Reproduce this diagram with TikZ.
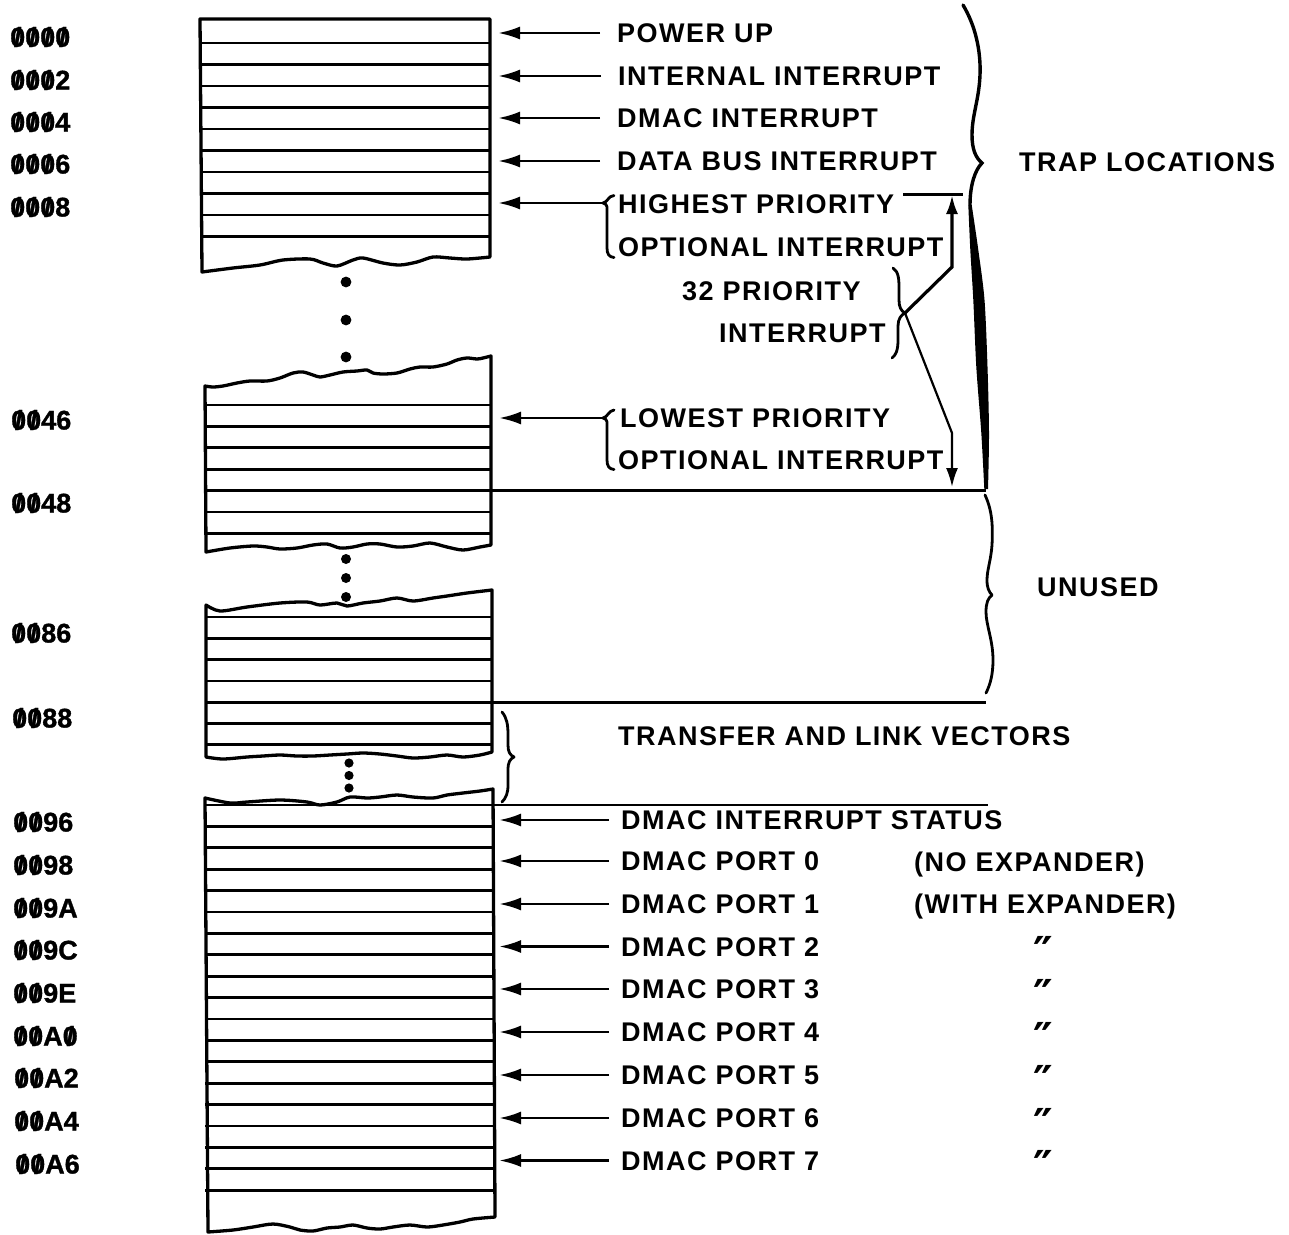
\documentclass[tikz,border=0pt]{standalone}
\usepackage{fontspec}
\usetikzlibrary{arrows.meta}
\newfontfamily\lblfam{Liberation Sans}[LetterSpace=5.5]
\newfontfamily\adrfam{Liberation Sans}[FakeBold=1.2]
\newfontfamily\dvsfam{DejaVu Sans}
\newcommand\lblfont{\lblfam\bfseries\fontsize{27}{30}\selectfont}
\newcommand\adrfont{\adrfam\bfseries\fontsize{27}{30}\selectfont}
\newcommand\qtfont{\dvsfam\bfseries\fontsize{44}{48}\selectfont}
\newcommand\sz{\ooalign{0\cr\hidewidth/\hidewidth\cr}}
\begin{document}
\begin{tikzpicture}[x=1pt,y=-1pt,
  blk/.style={line width=3.3pt,line join=round},
  rowline/.style={line width=2.7pt},
  arr/.style={line width=2.8pt,-{Latex[length=22pt,width=13pt]}},
  varr/.style={-{Latex[length=19pt,width=12pt]}},
  lbl/.style={anchor=west,inner sep=0pt,text height=19pt,text depth=0pt,font=\lblfont},
  adr/.style={anchor=west,inner sep=0pt,text height=19pt,text depth=0pt,font=\adrfont},
  qt/.style={anchor=base west,inner sep=0pt,font=\qtfont},
  brc/.style={line width=2.8pt,line cap=round,line join=round},
  dotc/.style={fill=black}]
\useasboundingbox (0,0) rectangle (1289,1234);

% ---------------- blocks ----------------
% block 1
\draw[blk] plot[smooth] coordinates {(490,257) (467,259) (450,258) (433,257) (417,262) (400,265) (383,263) (363,258) (353,260) (337,266) (323,263) (310,259) (283,260) (260,265) (233,268) (202,272)} -- (200,19) -- (490,19) -- cycle;
\foreach \k in {1,...,10} \draw[rowline] (200,{21.5+21.5*\k}) -- (490,{21.5+21.5*\k});
% block 2
\draw[blk] plot[smooth] coordinates {(205,386) (213,387) (223,386) (237,383) (250,381) (267,381) (280,378) (293,373) (303,372) (313,375) (320,377) (330,375) (343,372) (357,371) (367,370) (373,373) (383,374) (397,373) (410,369) (420,367) (433,367) (447,364) (457,360) (467,358) (477,359) (483,358) (491,356)}
  -- plot[smooth] coordinates {(491,545) (480,547) (463,550) (447,547) (430,543) (413,546) (397,547) (380,544) (367,544) (353,547) (340,548) (327,544) (313,545) (297,548) (280,549) (267,547) (253,546) (230,548) (206,552)} -- cycle;
\foreach \k in {0,...,6} \draw[rowline] (205,{405+21.4*\k}) -- (491,{405+21.4*\k});
% block 3
\draw[blk] plot[smooth] coordinates {(206,605) (220,611) (247,607) (280,603) (307,602) (320,605) (337,603) (347,606) (363,603) (380,601) (397,598) (413,601) (433,598) (447,596) (467,593) (492,590)}
  -- plot[smooth] coordinates {(492,752) (480,755) (463,757) (447,755) (430,757) (413,758) (397,756) (380,754) (363,753) (347,754) (330,755) (313,756) (297,756) (280,755) (263,756) (247,757) (223,759) (206,757)} -- cycle;
\foreach \k in {0,...,6} \draw[rowline] (206,{617+21.3*\k}) -- (492,{617+21.3*\k});
% block 4
\draw[blk] plot[smooth] coordinates {(205,798) (230,803) (247,802) (280,800) (307,802) (320,805) (337,802) (350,797) (367,798) (380,797) (397,795) (413,797) (433,798) (447,795) (463,793) (480,791) (493,789)}
  -- plot[smooth] coordinates {(495,1217) (473,1219) (460,1222) (443,1225) (427,1227) (410,1225) (393,1227) (380,1229) (367,1228) (353,1225) (340,1227) (327,1228) (313,1231) (300,1230) (290,1227) (273,1224) (253,1227) (233,1230) (208,1232)} -- cycle;
\foreach \k in {1,...,18} \draw[rowline] (205,{805+21.4*\k}) -- (494,{805+21.4*\k});

% continuation dots
\foreach \y in {282,320,357} \fill[dotc] (346,\y) circle (5.4);
\foreach \y in {559,578,597} \fill[dotc] (346,\y) circle (5);
\foreach \y in {763,775.5,788} \fill[dotc] (349,\y) circle (4.6);

% boundary lines extending to the right
\coordinate (E48a) at (491,490.6); \coordinate (E48b) at (986,490.6);
\draw[rowline] (E48a) -- (E48b);
\coordinate (E88a) at (492,702.2); \coordinate (E88b) at (986,702.2);
\draw[rowline] (E88a) -- (E88b);
\coordinate (E96a) at (205,805); \coordinate (E96b) at (988,805);
\draw[rowline] (E96a) -- (E96b);

% ---------------- address labels ----------------
\node[adr] (a0000) at (10,37)  {\sz\sz\sz\sz};
\node[adr] (a0002) at (10,80)  {\sz\sz\sz2};
\node[adr] (a0004) at (10,122) {\sz\sz\sz4};
\node[adr] (a0006) at (10,164) {\sz\sz\sz6};
\node[adr] (a0008) at (10,207) {\sz\sz\sz8};
\node[adr] (a0046) at (11,420) {\sz\sz46};
\node[adr] (a0048) at (11,503) {\sz\sz48};
\node[adr] (a0086) at (11,633) {\sz\sz86};
\node[adr] (a0088) at (12,718) {\sz\sz88};
\node[adr] (a0096) at (13,822) {\sz\sz96};
\node[adr] (a0098) at (13,865) {\sz\sz98};
\node[adr] (a009A) at (13,908) {\sz\sz9A};
\node[adr] (a009C) at (13,950) {\sz\sz9C};
\node[adr] (a009E) at (13,993) {\sz\sz9E};
\node[adr] (a00A0) at (13,1036) {\sz\sz A\sz};
\node[adr] (a00A2) at (14,1078) {\sz\sz A2};
\node[adr] (a00A4) at (14,1121) {\sz\sz A4};
\node[adr] (a00A6) at (15,1164) {\sz\sz A6};

% ---------------- trap location labels ----------------
\node[lbl] (L1) at (617,33)  {POWER UP};
\node[lbl] (L2) at (618,76)  {INTERNAL INTERRUPT};
\node[lbl] (L3) at (617,118) {DMAC INTERRUPT};
\node[lbl] (L4) at (617,161) {DATA BUS INTERRUPT};
\node[lbl] (L5) at (618,204) {HIGHEST PRIORITY};
\node[lbl] (L6) at (618,247) {OPTIONAL INTERRUPT};
\node[lbl] (L7) at (682,291) {32 PRIORITY};
\node[lbl] (L8) at (719,333) {INTERRUPT};
\node[lbl] (L9) at (620,418) {LOWEST PRIORITY};
\node[lbl] (L10) at (618,460) {OPTIONAL INTERRUPT};
\node[lbl] (TRAP) at (1019,162) {TRAP LOCATIONS};
\node[lbl] (UNU) at (1037,587) {UNUSED};
\node[lbl] (TLV) at (618,736) {TRANSFER AND LINK VECTORS};

\coordinate (T1) at (498,33);
\coordinate (T2) at (498,76);
\coordinate (T3) at (498,118);
\coordinate (T4) at (498,161);
\coordinate (T5) at (498,203);
\coordinate (T9) at (499,418);
\draw[arr,shorten <=17pt] (L1.west) -- (T1);
\draw[arr,shorten <=17pt] (L2.west) -- (T2);
\draw[arr,shorten <=17pt] (L3.west) -- (T3);
\draw[arr,shorten <=17pt] (L4.west) -- (T4);

% small left braces with arrows
\coordinate (B5) at (603,203);
\draw[brc] (614,195.5) .. controls (608,196) and (608,202) .. (B5) .. controls (608,204) and (607,208) .. (607,214) -- (607,248) .. controls (607,254) and (609,257) .. (614,257.5);
\draw[arr] (B5) -- (T5);
\coordinate (B9) at (603,418);
\draw[brc] (614,410) .. controls (608,411) and (608,417) .. (B9) .. controls (608,419) and (607,423) .. (607,429) -- (607,460) .. controls (607,466) and (609,469) .. (614,469.5);
\draw[arr] (B9) -- (T9);

% 32 priority brace and range arrows
\coordinate (BT) at (905,313);
\draw[brc] (893,268) .. controls (899,272) and (899,280) .. (899,290) -- (899,300) .. controls (899,307) and (901,311) .. (BT) .. controls (901,315) and (898,319) .. (898,326) -- (898,340) .. controls (898,350) and (896,355) .. (892,358);
\coordinate (HPe) at (903,194.5); \coordinate (BRt) at (963,194.5);
\draw[rowline] (HPe) -- (BRt);
\coordinate (J1) at (952,267); \coordinate (A1) at (952,195);
\draw[varr,line width=3.2pt] (BT) -- (J1) -- (A1);
\coordinate (J2) at (952,433); \coordinate (A2) at (952,487);
\draw[varr,line width=2.2pt] (BT) -- (J2) -- (A2);

% trap locations brace
\draw[line width=3.4pt,line cap=round] (963,5) .. controls (975,25) and (981,50) .. (980,75) .. controls (979,100) and (972,115) .. (972,135) .. controls (972,150) and (976,158) .. (982,163) .. controls (975,170) and (970,185) .. (970,205);
\fill plot[smooth] coordinates {(968.3,205) (970.3,250) (973.3,300) (976.3,367) (981.3,433) (984.3,489)} -- plot[smooth] coordinates {(988,489) (989,433) (987.5,367) (984.5,300) (978.3,250) (971.7,205)} -- cycle;

% unused brace
\draw[brc] (985,495) .. controls (992,510) and (993,525) .. (992,545) .. controls (991,560) and (987,570) .. (987,580) .. controls (987,588) and (989,592) .. (992,595) .. controls (988,598) and (986,603) .. (986,612) .. controls (986,625) and (993,640) .. (993,660) .. controls (993,675) and (990,685) .. (986,693);

% transfer brace
\draw[brc] (502,712) .. controls (507,718) and (508,725) .. (508,735) -- (508,745) .. controls (508,752) and (510,755) .. (514,757) .. controls (510,759) and (508,762) .. (508,770) -- (508,785) .. controls (508,793) and (506,798) .. (502,802);

% ---------------- DMAC labels ----------------
\node[lbl] (D0) at (621,820) {DMAC INTERRUPT STATUS};
\coordinate (TD0) at (499,820);
\draw[arr,shorten <=12pt] (D0.west) -- (TD0);
\foreach \i/\yy in {0/861,1/904,2/946.5,3/989,4/1032,5/1075,6/1118,7/1160.5}{
  \node[lbl] (P\i) at (621,\yy) {DMAC PORT \i};
  \coordinate (TP\i) at (499,\yy);
  \draw[arr,shorten <=12pt] (P\i.west) -- (TP\i);
}
\node[lbl] (NOX) at (914,862) {(NO EXPANDER)};
\node[lbl] (WEX) at (914,904) {(WITH EXPANDER)};
\foreach \i/\yy in {2/946.5,3/989,4/1032,5/1075,6/1118,7/1160.5}{
  \node[qt] (Q\i) at (1033,\yy+22) {″};
}
\end{tikzpicture}
\end{document}
